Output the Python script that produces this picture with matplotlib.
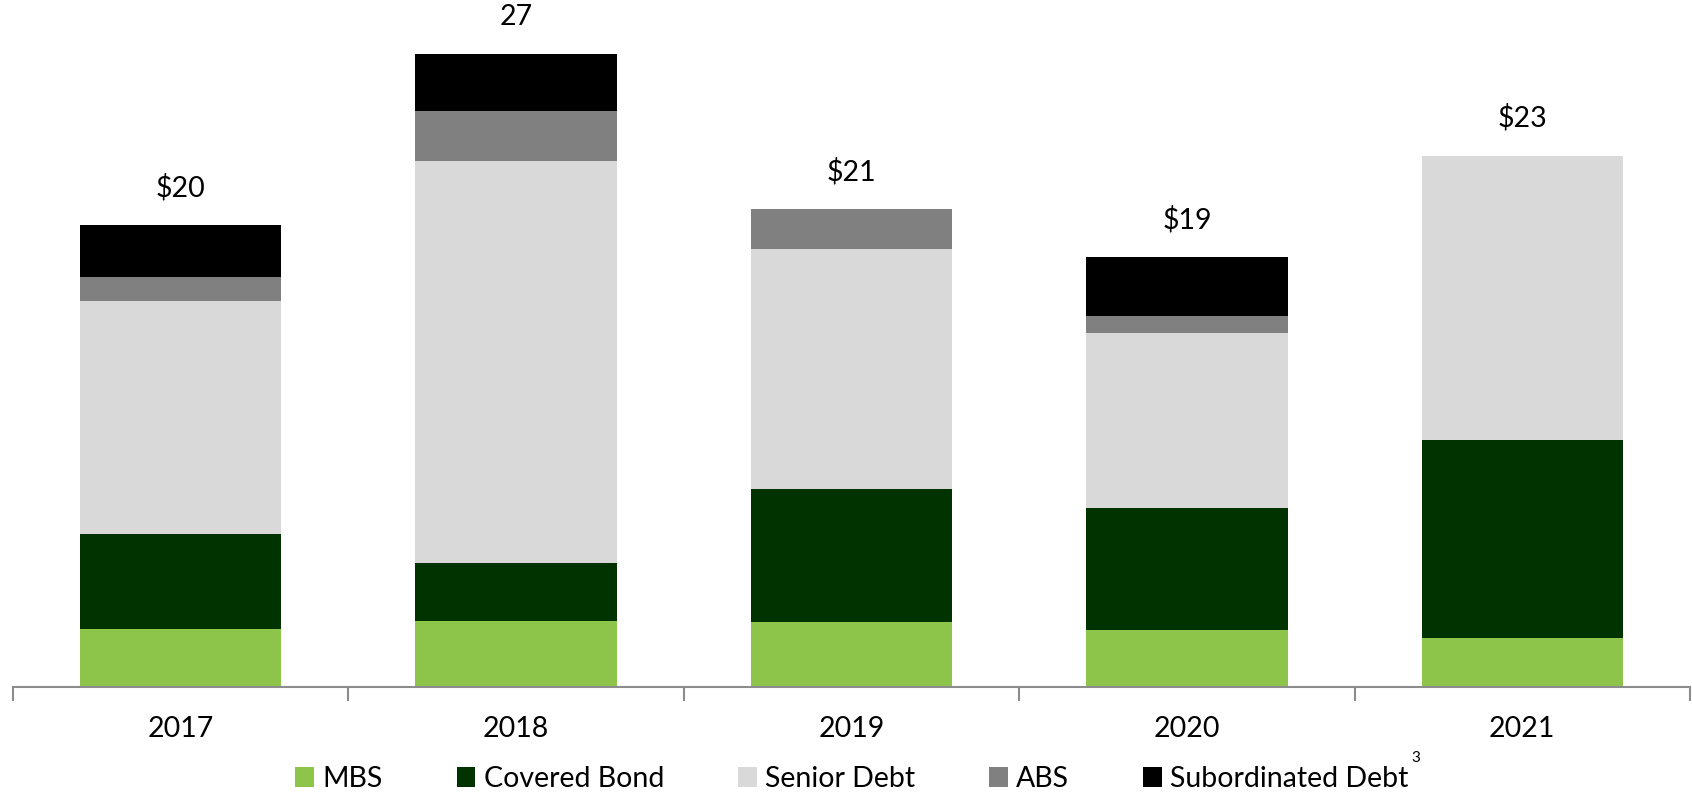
import matplotlib
matplotlib.use("Agg")
import matplotlib.pyplot as plt
import numpy as np

years = ["2017", "2018", "2019", "2020", "2021"]
mbs = [2.52, 2.85, 2.80, 2.48, 2.10]
covered = [4.10, 2.52, 5.75, 5.28, 8.60]
senior = [10.10, 17.40, 10.40, 7.57, 12.30]
abs_ = [1.03, 2.15, 1.73, 0.75, 0.0]
subdebt = [2.24, 2.48, 0.0, 2.52, 0.0]
total_labels = ["$20", "27", "$21", "$19", "$23"]

series = [
    ("MBS", mbs, "#8DC54B"),
    ("Covered Bond", covered, "#003300"),
    ("Senior Debt", senior, "#D9D9D9"),
    ("ABS", abs_, "#808080"),
    ("Subordinated Debt", subdebt, "#000000"),
]

plt.rcParams['font.family'] = ['Lato', 'DejaVu Sans']

fig = plt.figure(figsize=(16.92, 7.92), dpi=100)
ax = fig.add_axes([13/1692, 105/792, (1690-13)/1692, 687/792])

x = np.arange(len(years))
bottom = np.zeros(len(years))
handles = []
for name, vals, col in series:
    v = np.array(vals)
    b = ax.bar(x, v, width=0.6, bottom=bottom, color=col, label=name, zorder=2)
    handles.append(b)
    bottom += v

for xi, tot, lab in zip(x, bottom, total_labels):
    ax.annotate(lab, (xi, tot), xytext=(0, 27), textcoords="offset points",
                ha="center", va="center", fontsize=20.5, color="black")

ax.set_xlim(-0.5, len(years) - 0.5)
ax.set_ylim(0, 687/23.1)
ax.set_yticks([])
for s in ["left", "right", "top"]:
    ax.spines[s].set_visible(False)
ax.spines["bottom"].set_color("#8C8C8C")
ax.spines["bottom"].set_linewidth(1.5)
ax.set_xticks(np.arange(-0.5, len(years)), minor=False)
ax.set_xticklabels([])
ax.tick_params(axis="x", which="major", length=10, width=1.5, color="#8C8C8C")
ax.set_xticks(x, minor=True)
ax.set_xticklabels(years, minor=True, fontsize=20.5)
ax.tick_params(axis="x", which="minor", length=0, pad=21)

leg = fig.legend(handles=handles, loc="center", bbox_to_anchor=(0.5 + 6/1692, 1 - 779/792),
                 ncol=5, frameon=False, fontsize=20.5, handlelength=0.65, handleheight=0.65,
                 handletextpad=0.3, columnspacing=2.6)

fig.canvas.draw()
renderer = fig.canvas.get_renderer()
tbb = leg.get_texts()[-1].get_window_extent(renderer)
fig.text((tbb.x1 + 3) / 1692, (792 - 758) / 792, "3", fontsize=11,
         ha="left", va="center", color="black")

fig.savefig("out.png", dpi=100)
